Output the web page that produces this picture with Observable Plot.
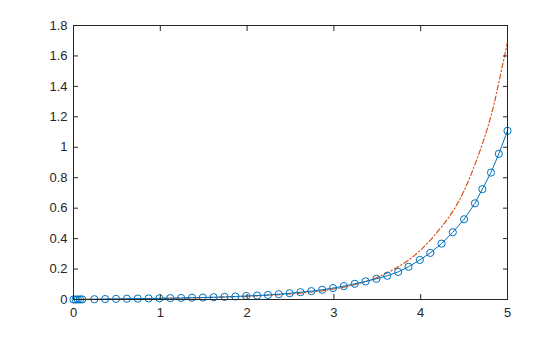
<!DOCTYPE html>
<html>
<head>
<meta charset="utf-8">
<script src="https://cdn.jsdelivr.net/npm/d3@7"></script>
<script src="https://cdn.jsdelivr.net/npm/@observablehq/plot@0.6"></script>
<style>
  html, body { margin: 0; padding: 0; background: #fff; }
  #chart { width: 560px; height: 337px; }
</style>
</head>
<body>
<div id="chart"></div>
<script>
// Blue series (solid line with circle markers)
const blueX = [0, 0.025, 0.05, 0.075, 0.1,
  0.24, 0.365, 0.49, 0.615, 0.74, 0.865, 0.99, 1.115, 1.24, 1.365, 1.49, 1.615, 1.74, 1.865, 1.99,
  2.115, 2.24, 2.365, 2.49, 2.615, 2.74, 2.865, 2.99, 3.115, 3.24, 3.365, 3.49, 3.615, 3.74,
  3.86, 3.99, 4.11, 4.24, 4.37, 4.5, 4.625, 4.71, 4.81, 4.9, 5.0];
const blueY = [0, 0, 0, 0.0005, 0.0005,
  0.002, 0.003, 0.004, 0.005, 0.006, 0.007, 0.008, 0.009, 0.010, 0.012, 0.013, 0.015, 0.017, 0.020, 0.023,
  0.026, 0.030, 0.035, 0.041, 0.048, 0.055, 0.064, 0.075, 0.088, 0.103, 0.119, 0.136, 0.156, 0.181,
  0.215, 0.260, 0.306, 0.367, 0.442, 0.527, 0.632, 0.725, 0.834, 0.957, 1.108];

// Orange series (dash-dot line)
const redX = [0, 0.25, 0.5, 0.75, 1, 1.25, 1.5, 1.75, 2, 2.25, 2.5, 2.75, 3, 3.25, 3.5, 3.75, 4, 4.25, 4.5, 4.75, 4.875, 5];
const redY = [0, 0.001, 0.003, 0.005, 0.007, 0.009, 0.012, 0.016, 0.021, 0.028, 0.037, 0.050, 0.069, 0.099, 0.145, 0.218, 0.325, 0.485, 0.715, 1.09, 1.36, 1.69];

// Axis ticks
const xTicks = [0, 1, 2, 3, 4, 5];
const yTicks = [0, 0.2, 0.4, 0.6, 0.8, 1, 1.2, 1.4, 1.6, 1.8];

const blue = blueX.map((x, i) => ({x, y: blueY[i]}));
const red = redX.map((x, i) => ({x, y: redY[i]}));

const axisColor = "#262626";
const blank = () => "";
const fmt = d => d3.format("~g")(d);

const chart = Plot.plot({
  width: 560,
  height: 337,
  marginLeft: 73,
  marginRight: 53,
  marginTop: 25,
  marginBottom: 38,
  style: {fontFamily: "'Liberation Sans', Arial, Helvetica, sans-serif", fontSize: "13px", color: axisColor, background: "#fff"},
  x: {domain: [0, 5], ticks: xTicks},
  y: {domain: [0, 1.8], ticks: yTicks},
  marks: [
    Plot.line(red, {x: "x", y: "y", stroke: "#D95319", strokeWidth: 1.2, strokeDasharray: "5,2.5,1.2,2.5", curve: "natural"}),
    Plot.line(blue, {x: "x", y: "y", stroke: "#0072BD", strokeWidth: 1}),
    Plot.dot(blue, {x: "x", y: "y", r: 3.6, stroke: "#0072BD", strokeWidth: 1, fill: "none"}),
    Plot.frame({stroke: axisColor, strokeWidth: 1}),
    Plot.axisX(xTicks, {anchor: "bottom", tickSize: -5, tickPadding: 13, fontSize: 13, stroke: axisColor, fill: axisColor, label: null, tickFormat: fmt}),
    Plot.axisX(xTicks, {anchor: "top", tickSize: -5, stroke: axisColor, label: null, tickFormat: blank}),
    Plot.axisY(yTicks, {anchor: "left", tickSize: -5, tickPadding: 11, fontSize: 13, stroke: axisColor, fill: axisColor, label: null, tickFormat: fmt}),
    Plot.axisY(yTicks, {anchor: "right", tickSize: -5, stroke: axisColor, label: null, tickFormat: blank})
  ]
});
document.getElementById("chart").appendChild(chart);
</script>
</body>
</html>
